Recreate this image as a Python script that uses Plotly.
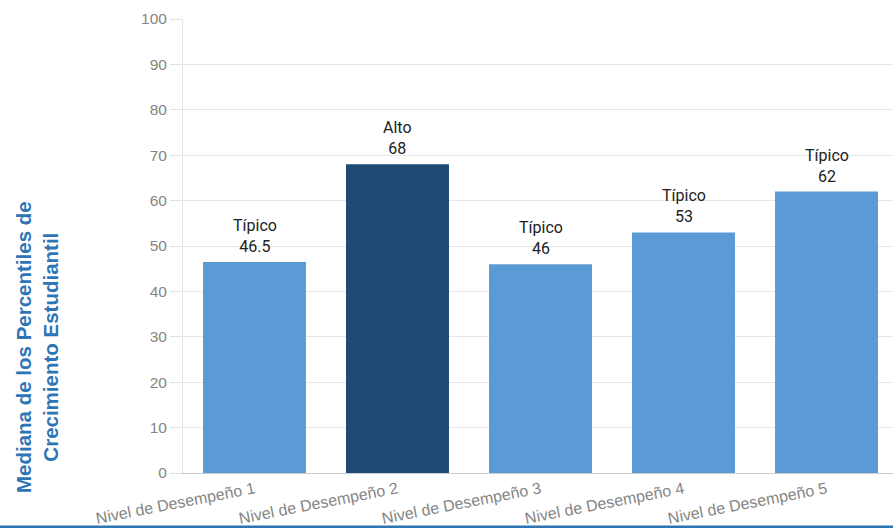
import plotly.graph_objects as go

categories = ["Nivel de Desempeño 1", "Nivel de Desempeño 2", "Nivel de Desempeño 3",
              "Nivel de Desempeño 4", "Nivel de Desempeño 5"]
values = [46.5, 68, 46, 53, 62]
levels = ["Típico", "Alto", "Típico", "Típico", "Típico"]
value_labels = ["46.5", "68", "46", "53", "62"]
bar_colors = ["#5b9bd5", "#1f4a75", "#5b9bd5", "#5b9bd5", "#5b9bd5"]
y_ticks = [0, 10, 20, 30, 40, 50, 60, 70, 80, 90, 100]

W, H = 893, 528
ml, mr, mt, mb = 183, 0, 19, 55
pw = W - ml - mr
ph = H - mt - mb
step = 143.0

fig = go.Figure()
fig.add_trace(go.Bar(
    x=list(range(len(categories))),
    y=values,
    marker=dict(color=bar_colors, line=dict(width=0)),
    hoverinfo="skip",
))

annotations = []
for i, (l, v, val) in enumerate(zip(levels, value_labels, values)):
    annotations.append(dict(
        x=i, y=val, xref="x", yref="y",
        text=f"{l}<br>{v}",
        xanchor="center", yanchor="bottom", yshift=4,
        showarrow=False,
        font=dict(family="Roboto", size=16, color="#222222"),
    ))

annotations.append(dict(
    text="<b>Mediana de los Percentiles de<br>Crecimiento Estudiantil</b>",
    xref="paper", yref="paper",
    x=0, y=(473 - 347) / ph,
    xanchor="center", yanchor="middle",
    xshift=37 - ml,
    textangle=-90,
    showarrow=False,
    font=dict(family="Liberation Sans, Arial", size=20.5, color="#2e75b6"),
))

fig.update_layout(
    width=W, height=H,
    margin=dict(l=ml, r=mr, t=mt, b=mb, pad=0),
    paper_bgcolor="white", plot_bgcolor="white",
    bargap=0.28,
    showlegend=False,
    xaxis=dict(
        range=[-0.5, -0.5 + pw / step],
        tickmode="array",
        tickvals=list(range(len(categories))),
        ticktext=categories,
        tickangle=-11,
        tickfont=dict(family="Liberation Sans, Arial", size=16, color="#858585"),
        showgrid=False, zeroline=False,
        showline=True, linecolor="#cccccc", linewidth=1,
        ticks="",
    ),
    yaxis=dict(
        range=[0, 100],
        tickvals=y_ticks,
        tickfont=dict(family="Liberation Sans, Arial", size=15.5, color="#858585"),
        showgrid=True, gridcolor="#e6e6e6", gridwidth=1,
        zeroline=False,
        showline=True, linecolor="#e6e6e6", linewidth=1,
        ticks="outside", ticklen=12, tickcolor="#e0e0e0",
    ),
    annotations=annotations,
    shapes=[dict(
        type="line", xref="paper", yref="paper",
        x0=-ml / pw, x1=1.0,
        y0=(473 - 527) / ph, y1=(473 - 527) / ph,
        line=dict(color="#2e75b6", width=3),
    )],
)

fig.write_html("out.html", config={"displayModeBar": False},
               post_script="document.body.style.margin='0';document.body.style.overflow='hidden';")
